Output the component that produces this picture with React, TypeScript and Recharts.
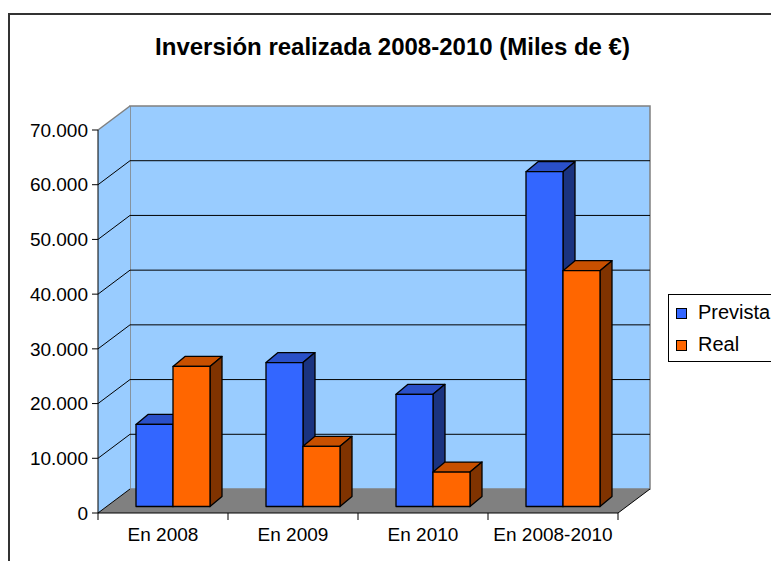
import React from "react";
import { BarChart, Bar, XAxis, YAxis, CartesianGrid } from "recharts";

// values (miles de euros)
const categories = ["En 2008", "En 2009", "En 2010", "En 2008-2010"];
const prevista = [15000, 26300, 20500, 61200];
const real = [25600, 11000, 6300, 43100];
const yTicks = [0, 10000, 20000, 30000, 40000, 50000, 60000, 70000];
const seriesNames = ["Prevista", "Real"];

const data = categories.map((c, i) => ({ name: c, prevista: prevista[i], real: real[i] }));

const FONT = "'Liberation Sans', Arial, sans-serif";
const W = 779;
const H = 569;

// floor / back wall depth
const DX = 32;
const DY = -24;
// bars sit a bit behind the front edge
const BX = 10;
const BY = -6.5;
// bar depth
const BDX = 12;
const BDY = -10;

const X_TICK_SIZE = 7;
const X_TICK_MARGIN = 8;

const COLORS: Record<string, { front: string; top: string; side: string }> = {
  prevista: { front: "#3366FF", top: "#2A50C8", side: "#1A3380" },
  real: { front: "#FF6600", top: "#C85000", side: "#803300" },
};

const fmt = (v: number) => String(v).replace(/\B(?=(\d{3})+(?!\d))/g, ".");

function Box3D(props: any) {
  const { x, y, width, height, dataKey } = props;
  if (width == null || height == null) return null;
  const c = COLORS[dataKey] || COLORS.prevista;
  const fx = x + BX;
  const fy = y + BY;
  const s = { stroke: "#000", strokeWidth: 1.3, strokeLinejoin: "round" as const };
  return (
    <g>
      <polygon
        points={`${fx},${fy} ${fx + width},${fy} ${fx + width + BDX},${fy + BDY} ${fx + BDX},${fy + BDY}`}
        fill={c.top}
        {...s}
      />
      <polygon
        points={`${fx + width},${fy} ${fx + width + BDX},${fy + BDY} ${fx + width + BDX},${fy + height + BDY} ${fx + width},${fy + height}`}
        fill={c.side}
        {...s}
      />
      <rect x={fx} y={fy} width={width} height={height} fill={c.front} {...s} />
    </g>
  );
}

// walls + floor drawn with the first grid line, then each gridline on side and back wall
function GridLine(props: any) {
  const { x1, y1, x2, index, x, y, width, height } = props;
  const bottom = y + height;
  const isBottom = Math.abs(y1 - bottom) < 1;
  const isTop = Math.abs(y1 - y) < 1;
  return (
    <g>
      {index === 0 && (
        <g>
          <rect x={x + DX} y={y + DY} width={width} height={height} fill="#99CCFF" stroke="#808080" strokeWidth={1.5} />
          <polygon
            points={`${x},${y} ${x + DX},${y + DY} ${x + DX},${bottom + DY} ${x},${bottom}`}
            fill="#99CCFF"
          />
          <line x1={x} y1={y} x2={x + DX} y2={y + DY} stroke="#808080" strokeWidth={1.5} />
          <polygon
            points={`${x},${bottom} ${x + width},${bottom} ${x + width + DX},${bottom + DY} ${x + DX},${bottom + DY}`}
            fill="#808080"
          />
          <line x1={x + width} y1={bottom} x2={x + width + DX} y2={bottom + DY} stroke="#000" strokeWidth={1} />
        </g>
      )}
      {!isBottom && !isTop && (
        <g stroke="#000" strokeWidth={1}>
          <line x1={x1} y1={y1} x2={x1 + DX} y2={y1 + DY} />
          <line x1={x1 + DX} y1={y1 + DY} x2={x2 + DX} y2={y1 + DY} />
        </g>
      )}
      {isBottom && <line x1={x1} y1={y1} x2={x1 + DX} y2={y1 + DY} stroke="#000" strokeWidth={1} />}
    </g>
  );
}

function XTick(props: any) {
  const { x, y, payload, index } = props;
  const half = 65;
  const axisY = y - X_TICK_SIZE - X_TICK_MARGIN;
  return (
    <g>
      <line x1={x - half} y1={axisY} x2={x - half} y2={axisY + X_TICK_SIZE} stroke="#000" />
      {index === categories.length - 1 && (
        <line x1={x + half} y1={axisY} x2={x + half} y2={axisY + X_TICK_SIZE} stroke="#000" />
      )}
      <text x={x} y={y} dy="0.71em" textAnchor="middle" fontSize={19} fontFamily={FONT} fill="#000">
        {payload.value}
      </text>
    </g>
  );
}

export default function App() {
  return (
    <div
      style={{
        position: "relative",
        width: W,
        height: H,
        margin: -8,
        overflow: "hidden",
        background: "#fff",
        fontFamily: FONT,
      }}
    >
      {/* chart frame, right and bottom edges fall outside the picture */}
      <div
        style={{
          position: "absolute",
          left: 8,
          top: 13,
          width: 900,
          height: 900,
          border: "2px solid #333",
        }}
      />
      <div
        style={{
          position: "absolute",
          left: 0,
          top: 33,
          width: 785,
          textAlign: "center",
          fontSize: 24,
          lineHeight: "28px",
          fontWeight: "bold",
          color: "#000",
        }}
      >
        Inversión realizada 2008-2010 (Miles de €)
      </div>

      <div style={{ position: "absolute", left: 0, top: 0 }}>
        <BarChart
          width={W}
          height={H}
          data={data}
          margin={{ top: 130, right: 161, bottom: 16, left: 0 }}
          barCategoryGap={28}
          barGap={0}
        >
          <CartesianGrid vertical={false} horizontal={(p: any) => <GridLine {...p} />} />
          <XAxis
            dataKey="name"
            height={40}
            axisLine={{ stroke: "#000" }}
            tickLine={false}
            tickSize={X_TICK_SIZE}
            tickMargin={X_TICK_MARGIN}
            tick={<XTick />}
            interval={0}
          />
          <YAxis
            width={98}
            domain={[0, 70000]}
            ticks={yTicks}
            tickFormatter={fmt}
            axisLine={{ stroke: "#000" }}
            tickLine={{ stroke: "#000" }}
            tickSize={6}
            tickMargin={4}
            tick={{ fontSize: 19, fill: "#000", fontFamily: FONT }}
            interval={0}
          />
          <Bar dataKey="prevista" name="Prevista" fill="#3366FF" isAnimationActive={false} shape={(p: any) => <Box3D {...p} dataKey="prevista" />} />
          <Bar dataKey="real" name="Real" fill="#FF6600" isAnimationActive={false} shape={(p: any) => <Box3D {...p} dataKey="real" />} />
        </BarChart>
      </div>

      {/* legend */}
      <div
        style={{
          position: "absolute",
          left: 668,
          top: 294,
          width: 140,
          height: 68,
          boxSizing: "border-box",
          border: "1px solid #000",
          background: "#fff",
        }}
      >
        {seriesNames.map((n, i) => {
          const key = i === 0 ? "prevista" : "real";
          return (
            <React.Fragment key={n}>
              <div
                style={{
                  position: "absolute",
                  left: 7,
                  top: 13 + i * 32,
                  width: 11,
                  height: 11,
                  boxSizing: "border-box",
                  border: "1px solid #000",
                  background: COLORS[key].front,
                }}
              />
              <div
                style={{
                  position: "absolute",
                  left: 29,
                  top: 7 + i * 32,
                  fontSize: 20,
                  lineHeight: "20px",
                  color: "#000",
                  whiteSpace: "nowrap",
                }}
              >
                {n}
              </div>
            </React.Fragment>
          );
        })}
      </div>
    </div>
  );
}
